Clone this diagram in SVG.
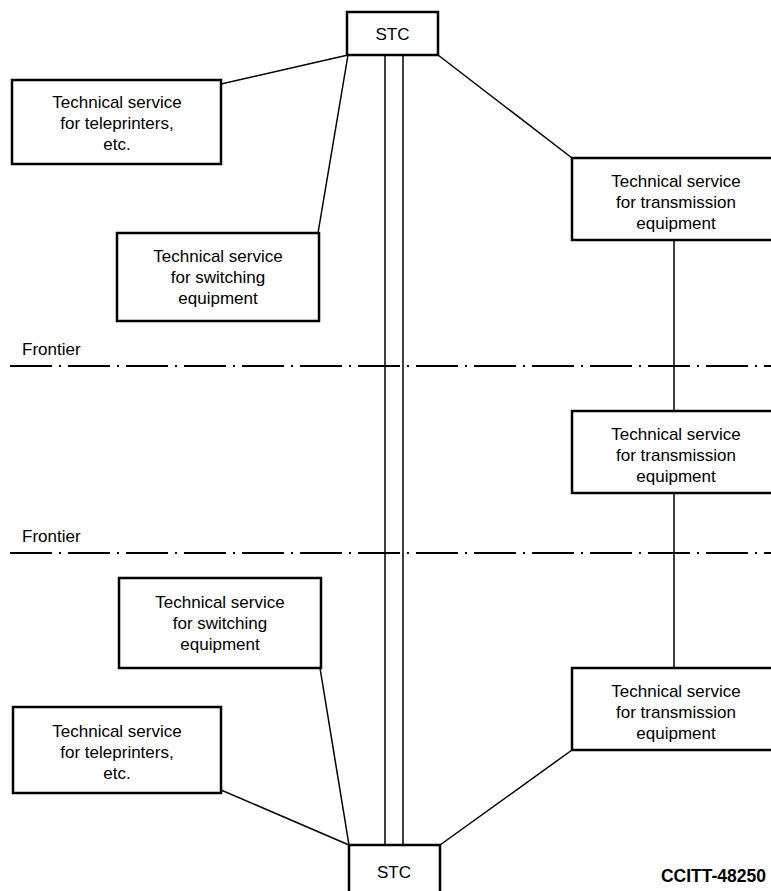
<svg xmlns="http://www.w3.org/2000/svg" width="771" height="891" viewBox="0 0 771 891">
<style>
.box{fill:#fff;stroke:#000;stroke-width:2.5}
.t{font-family:"Liberation Sans",Arial,sans-serif;font-size:17px;fill:#000;text-anchor:middle}
.l{font-family:"Liberation Sans",Arial,sans-serif;font-size:17px;fill:#000}
.c{stroke:#000;stroke-width:1.5;fill:none}
.f{stroke:#000;stroke-width:1.8;fill:none;stroke-dasharray:42 7 2 7}
</style>
<rect width="771" height="891" fill="#fff"/>
<g id="frontiers">
<line class="f" x1="10" y1="366" x2="771" y2="366"/>
<line class="f" x1="10" y1="553" x2="771" y2="553"/>
<text class="l" x="22" y="355">Frontier</text>
<text class="l" x="22" y="542">Frontier</text>
</g>
<g id="connectors">
<line class="c" x1="385" y1="55" x2="385" y2="845"/>
<line class="c" x1="403" y1="55" x2="403" y2="845"/>
<line class="c" x1="348" y1="55" x2="221" y2="84"/>
<line class="c" x1="348" y1="55" x2="318" y2="233"/>
<line class="c" x1="438" y1="55" x2="572" y2="158"/>
<line class="c" x1="674" y1="240" x2="674" y2="411"/>
<line class="c" x1="674" y1="493" x2="674" y2="668"/>
<line class="c" x1="320" y1="668" x2="349" y2="845"/>
<line class="c" x1="221" y1="790" x2="349" y2="845"/>
<line class="c" x1="572" y1="750" x2="440" y2="845"/>
</g>
<g id="stc-top">
<rect class="box" x="347" y="12" width="91" height="43"/>
<text class="t" x="392.5" y="40">STC</text>
</g>
<g id="teleprinters-top">
<rect class="box" x="12" y="80" width="209" height="84"/>
<text class="t" x="117" y="108">Technical service</text>
<text class="t" x="117" y="129">for teleprinters,</text>
<text class="t" x="117" y="150">etc.</text>
</g>
<g id="switching-top">
<rect class="box" x="117" y="233" width="202" height="88"/>
<text class="t" x="218" y="262">Technical service</text>
<text class="t" x="218" y="283">for switching</text>
<text class="t" x="218" y="304">equipment</text>
</g>
<g id="transmission-1">
<rect class="box" x="572" y="158" width="215" height="82"/>
<text class="t" x="676" y="187">Technical service</text>
<text class="t" x="676" y="208">for transmission</text>
<text class="t" x="676" y="229">equipment</text>
</g>
<g id="transmission-2">
<rect class="box" x="572" y="411" width="215" height="82"/>
<text class="t" x="676" y="440">Technical service</text>
<text class="t" x="676" y="461">for transmission</text>
<text class="t" x="676" y="482">equipment</text>
</g>
<g id="transmission-3">
<rect class="box" x="572" y="668" width="215" height="82"/>
<text class="t" x="676" y="697">Technical service</text>
<text class="t" x="676" y="718">for transmission</text>
<text class="t" x="676" y="739">equipment</text>
</g>
<g id="switching-bottom">
<rect class="box" x="119" y="578" width="202" height="90"/>
<text class="t" x="220" y="608">Technical service</text>
<text class="t" x="220" y="629">for switching</text>
<text class="t" x="220" y="650">equipment</text>
</g>
<g id="teleprinters-bottom">
<rect class="box" x="13" y="707" width="208" height="86"/>
<text class="t" x="117" y="737">Technical service</text>
<text class="t" x="117" y="758">for teleprinters,</text>
<text class="t" x="117" y="779">etc.</text>
</g>
<g id="stc-bottom">
<rect class="box" x="349" y="845" width="91" height="50"/>
<text class="t" x="394" y="878">STC</text>
</g>
<text x="766" y="882" font-family="'Liberation Sans',Arial,sans-serif" font-size="17.5" font-weight="bold" text-anchor="end">CCITT-48250</text>
</svg>
